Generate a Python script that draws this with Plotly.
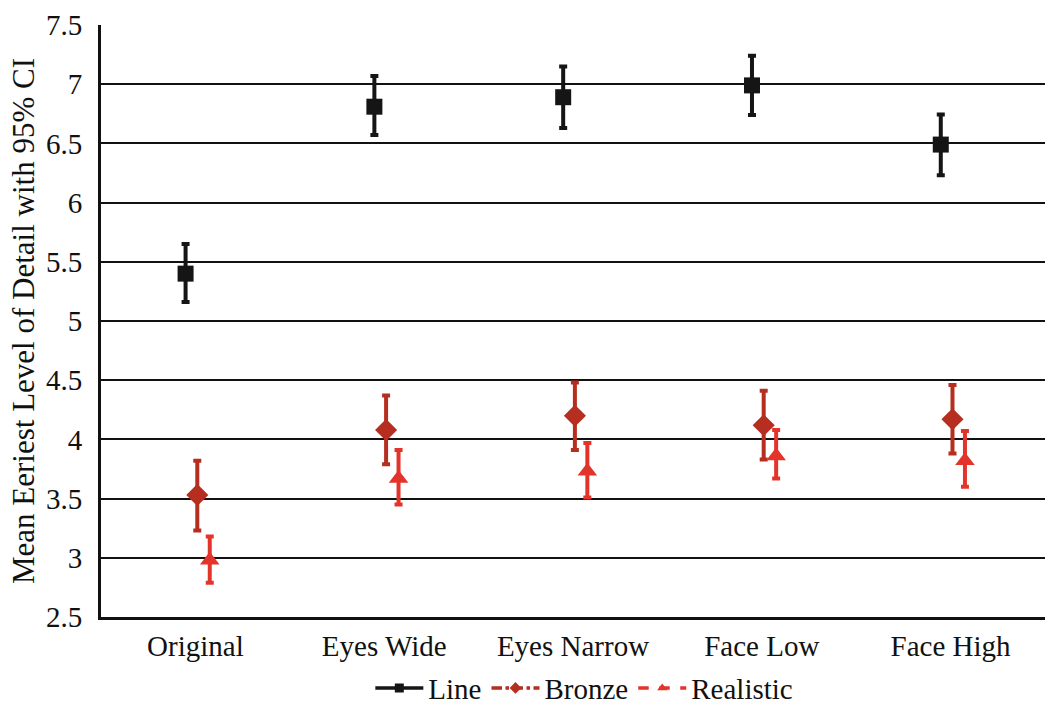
import plotly.graph_objects as go

categories = ["Original", "Eyes Wide", "Eyes Narrow", "Face Low", "Face High"]
series_names = ["Line", "Bronze", "Realistic"]

line_mean = [5.40, 6.81, 6.89, 6.99, 6.49]
line_hi = [5.65, 7.07, 7.15, 7.24, 6.745]
line_lo = [5.16, 6.57, 6.63, 6.74, 6.23]

bronze_mean = [3.53, 4.08, 4.20, 4.12, 4.17]
bronze_hi = [3.82, 4.37, 4.48, 4.41, 4.46]
bronze_lo = [3.23, 3.79, 3.91, 3.83, 3.88]

real_mean = [2.98, 3.67, 3.73, 3.86, 3.82]
real_hi = [3.18, 3.91, 3.97, 4.08, 4.07]
real_lo = [2.79, 3.45, 3.51, 3.67, 3.60]

y_ticks = [2.5, 3, 3.5, 4, 4.5, 5, 5.5, 6, 6.5, 7, 7.5]
y_tick_text = ["2.5", "3", "3.5", "4", "4.5", "5", "5.5", "6", "6.5", "7", "7.5"]

colors = ["#151515", "#b52e1f", "#e3342b"]
symbols = ["square", "diamond", "triangle-up"]
dashes = ["solid", "dashdot", "dash"]
offsets = [-0.052, 0.01, 0.076]

FONT = "Liberation Serif"

fig = go.Figure()
data = [(line_mean, line_hi, line_lo), (bronze_mean, bronze_hi, bronze_lo), (real_mean, real_hi, real_lo)]
for i, (name, (m, hi, lo)) in enumerate(zip(series_names, data)):
    xs = [j + offsets[i] for j in range(len(categories))]
    fig.add_trace(go.Scatter(
        x=xs, y=m, mode="markers", name=name, showlegend=False,
        marker=dict(symbol=symbols[i], size=16 if i == 0 else 17, color=colors[i]),
        error_y=dict(type="data", symmetric=False,
                     array=[h - v for h, v in zip(hi, m)],
                     arrayminus=[v - l for v, l in zip(m, lo)],
                     color=colors[i], thickness=4, width=4),
    ))
    fig.add_trace(go.Scatter(
        x=[None], y=[None], mode="lines+markers", name=name,
        line=dict(color=colors[i], width=3.5, dash=dashes[i]),
        marker=dict(symbol=symbols[i], size=9, color=colors[i]),
    ))

fig.update_layout(
    width=1045, height=705,
    margin=dict(l=101, r=0, t=25, b=88, autoexpand=False),
    paper_bgcolor="white", plot_bgcolor="white",
    font=dict(family=FONT, size=29, color="#111"),
    showlegend=True,
    legend=dict(orientation="h", x=0.512, xanchor="center", y=-0.12, yanchor="middle",
                font=dict(family=FONT, size=29, color="#111"),
                itemwidth=48, tracegroupgap=0),
    xaxis=dict(
        range=[-0.5, 4.5], tickmode="array",
        tickvals=list(range(len(categories))), ticktext=categories,
        showgrid=False, showline=True, linecolor="#111", linewidth=3,
        ticks="", zeroline=False, ticklabelstandoff=1,
        tickfont=dict(family=FONT, size=29, color="#111"),
    ),
    yaxis=dict(
        range=[2.5, 7.5], tickmode="array", tickvals=y_ticks, ticktext=y_tick_text,
        showgrid=True, gridcolor="#111", gridwidth=2,
        showline=True, linecolor="#111", linewidth=3,
        ticks="", zeroline=False, ticklabelstandoff=10,
        tickfont=dict(family=FONT, size=29, color="#111"),
        title=dict(text="Mean Eeriest Level of Detail with 95% CI",
                   font=dict(family=FONT, size=31, color="#111"), standoff=3),
    ),
)

fig.write_html("out.html")
